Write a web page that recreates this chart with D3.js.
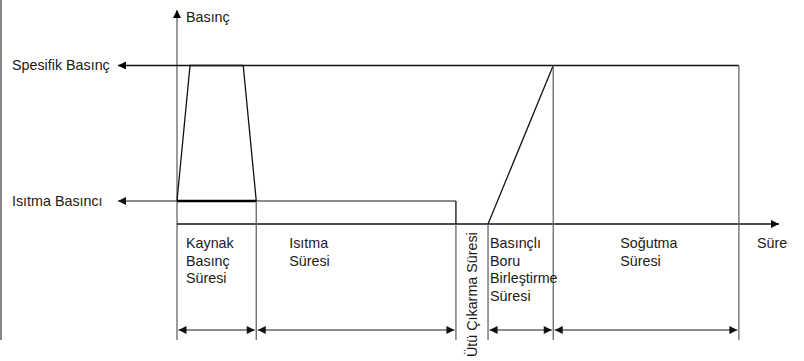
<!DOCTYPE html>
<meta charset="utf-8">
<style>
    body { margin: 0; background: #fff; }
    svg { display: block; }
    text { font-family: "Liberation Sans", Arial, sans-serif; font-size: 14.3px; fill: #1a1a1a; }
    .ln { fill: none; stroke: #111; stroke-width: 1.3px; }
    .gray { stroke: #666; }
</style>
<body>
<script src="https://d3js.org/d3.v7.min.js"></script>
<script>
    // time points along the x axis (arbitrary units)
    var tKaynakUp = 1.3,
        tKaynakTop = 6.6,
        tKaynakEnd = 7.9,
        tIsitmaEnd = 27.8,
        tBoruStart = 31,
        tSogutmaStart = 37.5,
        tSogutmaEnd = 56,
        tAxisEnd = 60;

    // pressure levels
    var pSpesifik = 1.0,
        pIsitma = 0.145,
        pAxisEnd = 1.35;

    var levelLabels = [
        { text: "Spesifik Basınç", p: pSpesifik },
        { text: "Isıtma Basıncı", p: pIsitma }
    ];

    var spans = [
        { from: 0, to: tKaynakEnd, lines: ["Kaynak", "Basınç", "Süresi"], dx: 9 },
        { from: tKaynakEnd, to: tIsitmaEnd, lines: ["Isıtma", "Süresi"], dx: 33 },
        { from: tBoruStart, to: tSogutmaStart, lines: ["Basınçlı", "Boru", "Birleştirme", "Süresi"], dx: 2 },
        { from: tSogutmaStart, to: tSogutmaEnd, lines: ["Soğutma", "Süresi"], dx: 67 }
    ];

    var width = 804, height = 361;
    var svg = d3.select("body").append("svg")
        .attr("width", width)
        .attr("height", height);

    var x = d3.scaleLinear().domain([0, tAxisEnd]).range([177, 779]);
    var y = d3.scaleLinear().domain([0, pAxisEnd]).range([224, 10]);
    var dimY = 330, bottom = 340, labelArrowX = 118;

    var defs = svg.append("defs");
    function marker(id, color) {
        defs.append("marker")
            .attr("id", id)
            .attr("viewBox", "0 0 10 10")
            .attr("refX", 10).attr("refY", 5)
            .attr("markerUnits", "userSpaceOnUse")
            .attr("markerWidth", 11).attr("markerHeight", 8)
            .attr("orient", "auto-start-reverse")
            .append("path")
            .attr("d", "M0,0L10,5L0,10Z")
            .attr("fill", color);
    }
    marker("arr", "#000");
    marker("arrg", "#111");

    // left border
    svg.append("rect").attr("x", 0).attr("y", 0).attr("width", 2).attr("height", bottom)
        .attr("fill", "#888");

    var line = d3.line().x(function (d) { return d[0]; }).y(function (d) { return d[1]; });

    // axes
    svg.append("path").attr("class", "ln gray")
        .attr("d", line([[x(0), bottom], [x(0), y(pAxisEnd)]]))
        .attr("marker-end", "url(#arr)");
    svg.append("path").attr("class", "ln")
        .attr("d", line([[x(0), y(0)], [x(tAxisEnd), y(0)]]))
        .attr("marker-end", "url(#arr)");

    svg.append("text").attr("x", x(0) + 9).attr("y", y(pAxisEnd) + 12).text("Basınç");
    svg.append("text").attr("x", x(tAxisEnd) - 22).attr("y", y(0) + 24).text("Süre");

    // level lines with left arrows
    svg.append("path").attr("class", "ln")
        .attr("d", line([[x(tSogutmaEnd), y(pSpesifik)], [labelArrowX, y(pSpesifik)]]))
        .attr("marker-end", "url(#arr)");
    svg.append("path").attr("class", "ln gray")
        .attr("d", line([[x(tIsitmaEnd), y(pIsitma)], [labelArrowX, y(pIsitma)]]))
        .attr("marker-end", "url(#arrg)");

    svg.selectAll(".lvl").data(levelLabels).enter().append("text")
        .attr("class", "lvl")
        .attr("x", 12)
        .attr("y", function (d) { return y(d.p) + 5; })
        .text(function (d) { return d.text; });

    // kaynak trapezoid
    svg.append("path").attr("class", "ln")
        .attr("d", line([[x(0), y(pIsitma)], [x(tKaynakUp), y(pSpesifik)],
            [x(tKaynakTop), y(pSpesifik)], [x(tKaynakEnd), y(pIsitma)]]));
    svg.append("path").attr("class", "ln").style("stroke-width", "2.4px").style("stroke", "#000")
        .attr("d", line([[x(0), y(pIsitma)], [x(tKaynakEnd), y(pIsitma)]]));

    // heating box right edge
    svg.append("path").attr("class", "ln")
        .attr("d", line([[x(tIsitmaEnd), y(pIsitma)], [x(tIsitmaEnd), y(0)]]));

    // pressure ramp
    svg.append("path").attr("class", "ln")
        .attr("d", line([[x(tBoruStart), y(0)], [x(tSogutmaStart), y(pSpesifik)]]));

    // vertical boundaries
    var bounds = [
        { t: tKaynakEnd, top: pIsitma },
        { t: tIsitmaEnd, top: 0 },
        { t: tBoruStart, top: 0 },
        { t: tSogutmaStart, top: pSpesifik },
        { t: tSogutmaEnd, top: pSpesifik }
    ];
    svg.selectAll(".bnd").data(bounds).enter().append("path")
        .attr("class", "ln gray bnd")
        .attr("d", function (d) { return line([[x(d.t), y(d.top)], [x(d.t), bottom]]); });

    // dimension arrows
    svg.selectAll(".dim").data(spans).enter().append("path")
        .attr("class", "ln gray dim")
        .attr("d", function (d) { return line([[x(d.from) + 1.5, dimY], [x(d.to) - 1.5, dimY]]); })
        .attr("marker-start", "url(#arrg)")
        .attr("marker-end", "url(#arrg)");

    // span labels
    spans.forEach(function (d) {
        var t = svg.append("text").attr("x", x(d.from) + d.dx).attr("y", 248);
        d.lines.forEach(function (s, i) {
            t.append("tspan").attr("x", x(d.from) + d.dx).attr("dy", i === 0 ? 0 : 17.5).text(s);
        });
    });

    // rotated label for the gap
    svg.append("text")
        .attr("transform", "translate(" + ((x(tIsitmaEnd) + x(tBoruStart)) / 2 + 5.5) + "," + 357 + ") rotate(-90)")
        .text("Ütü Çıkarma Süresi");
</script>
</body>
